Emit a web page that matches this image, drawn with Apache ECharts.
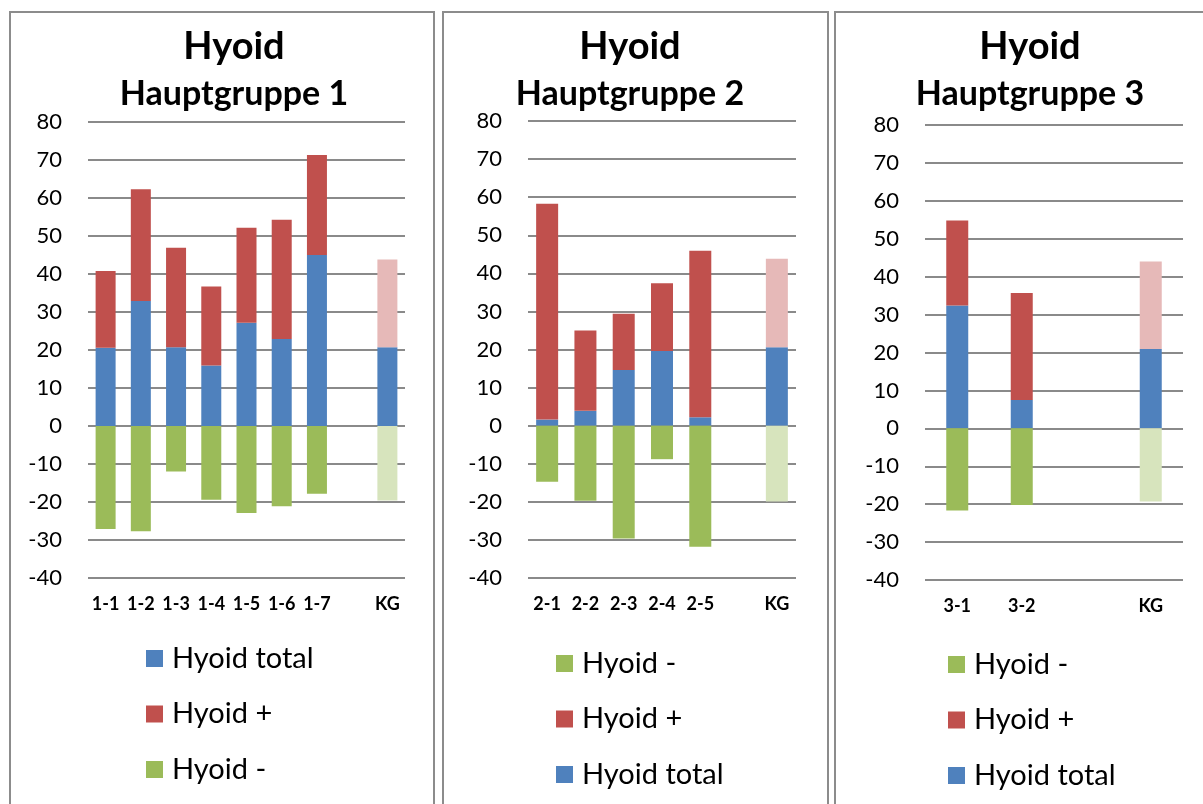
<!DOCTYPE html>
<html>
<head>
<meta charset="utf-8">
<script src="https://cdn.jsdelivr.net/npm/echarts@6/dist/echarts.min.js"></script>
<style>
html,body{margin:0;padding:0;background:#fff;}
#c{width:1203px;height:804px;}
</style>
</head>
<body>
<div id="c"></div>
<script>
// ---- data ----
const cats1 = ['1-1','1-2','1-3','1-4','1-5','1-6','1-7','','KG'];
const total1 = [20.6, 32.9, 20.7, 15.9, 27.2, 22.9, 45.0, null, 20.7];
const plus1  = [20.2, 29.4, 26.2, 20.8, 25.0, 31.4, 26.3, null, 23.1];
const minus1 = [-27.1, -27.7, -12.0, -19.4, -22.9, -21.1, -17.8, null, -19.6];

const cats2 = ['2-1','2-2','2-3','2-4','2-5','','KG'];
const total2 = [1.6, 3.9, 14.6, 19.6, 2.2, null, 20.6];
const plus2  = [56.7, 21.1, 14.8, 17.8, 43.7, null, 23.2];
const minus2 = [-14.7, -19.7, -29.6, -8.8, -31.8, null, -19.9];

const cats3 = ['3-1','3-2','','KG'];
const total3 = [32.4, 7.5, null, 20.9];
const plus3  = [22.4, 28.2, null, 23.1];
const minus3 = [-21.7, -20.2, null, -19.3];

const yTicks = [-40,-30,-20,-10,0,10,20,30,40,50,60,70,80];

const titleMain = 'Hyoid';
const titleSubs = ['Hauptgruppe 1','Hauptgruppe 2','Hauptgruppe 3'];
const legendOrder1 = ['Hyoid total','Hyoid +','Hyoid -'];
const legendOrder23 = ['Hyoid -','Hyoid +','Hyoid total'];

// ---- styles ----
const BLUE = '#4F81BD', RED = '#C0504D', GREEN = '#9BBB59';
const PINK = '#E6B9B8', LGREEN = '#D7E4BD';
const FONT = 'Lato, "Open Sans", sans-serif';
const GRIDC = '#8a8a8a';

const panels = [
  {cats: cats1, total: total1, plus: plus1, minus: minus1, grid:{left:88, top:122, width:317, height:456}, bw:20,
   cx:234, legend:{left:146, top:644, data:legendOrder1}, border:{x:10,y:12,w:424}},
  {cats: cats2, total: total2, plus: plus2, minus: minus2, grid:{left:528, top:121, width:268, height:457}, bw:22,
   cx:630, legend:{left:556, top:649, data:legendOrder23}, border:{x:443,y:12,w:385}},
  {cats: cats3, total: total3, plus: plus3, minus: minus3, grid:{left:925, top:125, width:258, height:455}, bw:22,
   cx:1030, legend:{left:948, top:650, data:legendOrder23}, border:{x:835,y:12,w:400}}
];

function kgStyle(arr, cats, kgColor){
  return arr.map((v,i)=> cats[i]==='KG' ? {value:v, itemStyle:{color:kgColor}} : v);
}

const option = {
  animation:false,
  backgroundColor:'#fff',
  grid: panels.map(p=>Object.assign({containLabel:false}, p.grid)),
  xAxis: panels.map((p,i)=>({
    type:'category', gridIndex:i, data:p.cats, position:'bottom',
    axisLine:{show:false, onZero:false}, axisTick:{show:false},
    axisLabel:{interval:0, color:'#000', fontFamily:FONT, fontWeight:'bold', fontSize:18, margin:17}
  })),
  yAxis: panels.map((p,i)=>({
    type:'value', gridIndex:i, min:-40, max:80, interval:10,
    axisLine:{show:false}, axisTick:{show:false},
    axisLabel:{color:'#000', fontFamily:FONT, fontSize:22, margin:26,
      formatter:(v)=> yTicks.includes(v) ? String(v) : ''},
    splitLine:{lineStyle:{color:GRIDC, width:2}}
  })),
  legend: panels.map(p=>({
    orient:'vertical', left:p.legend.left, top:p.legend.top, height:160, data:p.legend.data,
    padding:0, icon:'rect', itemWidth:17, itemHeight:17, itemGap:26.5,
    textStyle:{color:'#000', fontFamily:FONT, fontSize:29, padding:[0,0,0,4]},
    selectedMode:false
  })),
  series: [],
  graphic: []
};

panels.forEach((p,i)=>{
  option.series.push(
    {name:'Hyoid total', type:'bar', xAxisIndex:i, yAxisIndex:i, stack:'s'+i, barWidth:p.bw,
     itemStyle:{color:BLUE}, data:p.total},
    {name:'Hyoid +', type:'bar', xAxisIndex:i, yAxisIndex:i, stack:'s'+i, barWidth:p.bw,
     itemStyle:{color:RED}, data:kgStyle(p.plus, p.cats, PINK)},
    {name:'Hyoid -', type:'bar', xAxisIndex:i, yAxisIndex:i, stack:'s'+i, barWidth:p.bw,
     itemStyle:{color:GREEN}, data:kgStyle(p.minus, p.cats, LGREEN)}
  );
  option.graphic.push(
    {type:'rect', shape:{x:p.border.x, y:p.border.y, width:p.border.w, height:820},
     style:{fill:null, stroke:'#8c8c8c', lineWidth:2}, silent:true},
    {type:'text', x:p.cx, y:47, style:{text:titleMain, fill:'#000', font:'bold 38px '+FONT, textAlign:'center', textVerticalAlign:'middle'}},
    {type:'text', x:p.cx, y:94, style:{text:titleSubs[i], fill:'#000', font:'bold 34px '+FONT, textAlign:'center', textVerticalAlign:'middle'}}
  );
});

const chart = echarts.init(document.getElementById('c'), null, {renderer:'canvas'});
chart.setOption(option);
</script>
</body>
</html>
